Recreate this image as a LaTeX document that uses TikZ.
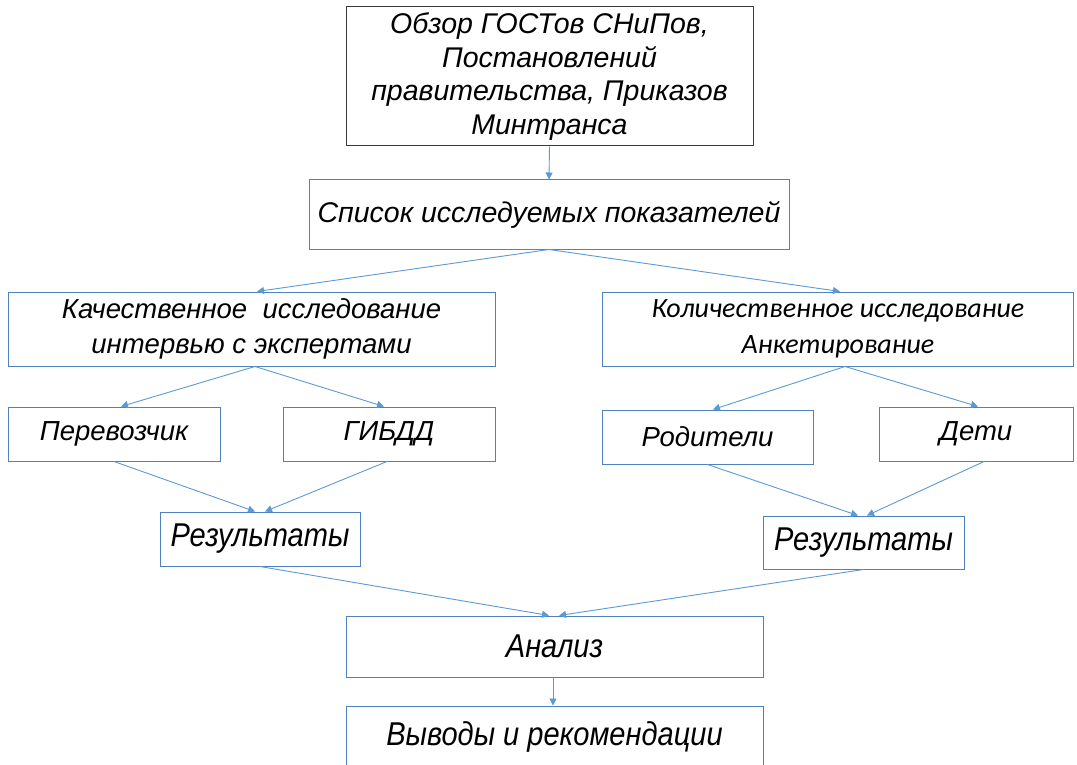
\documentclass[tikz,border=0pt]{standalone}
\usepackage{fontspec}
\setmainfont{Liberation Sans}
\newfontfamily\fcnarrow[FakeStretch=0.88]{Liberation Sans}
\newfontfamily\fccalibri{Carlito}
\usepackage{tikz}
\usetikzlibrary{arrows.meta}
\definecolor{fcframe}{HTML}{4F81BD}
\definecolor{fcline} {HTML}{5B9BD5}
\definecolor{fcdark} {HTML}{3A3A3A}
\newcommand{\fcsize}[2]{\fontsize{#1}{#2}\selectfont\itshape}
\tikzset{
  fcbox/.style={draw=fcframe, fill=white, line width=1pt, inner sep=0pt,
                align=center, font=\fcsize{27.5}{33}},
  fctop/.style={fcbox, draw=fcdark, font=\fcsize{28.5}{33.5}},
  fcsmall/.style={fcbox, font=\fccalibri\fcsize{28}{36}},
  fcnarrowbox/.style={fcbox, font=\fcnarrow\fcsize{33}{36}},
  fcarrow/.style={-{Triangle[length=7pt,width=7pt]}, draw=fcline, line width=0.9pt},
}

\begin{document}
\begin{tikzpicture}[x=1pt,y=-1pt]
  \useasboundingbox (0,0) rectangle (1077,765);
  \fill[white] (0,0) rectangle (1077,765);

  \node[fctop, minimum width=407, minimum height=139] (obzor) at (549.5,76.5)
    {Обзор ГОСТов СНиПов,\\Постановлений\\правительства, Приказов\\Минтранса};
  \node[fcbox, minimum width=480, minimum height=69, font=\fcsize{28.5}{33}] (spisok) at (549,214.5)
    {Список исследуемых показателей};

  \node[fcbox, minimum width=487, minimum height=74, font=\fcsize{27.5}{35}] (kach) at (251.5,329)
    {Качественное\ \ исследование\\интервью с экспертами};
  \node[fcsmall, minimum width=471, minimum height=74] (kol) at (838,329)
    {Количественное исследование\\Анкетирование};

  \node[fcbox, minimum width=212, minimum height=54] (perev) at (114,434) {Перевозчик};
  \node[fcbox, minimum width=212, minimum height=54] (gibdd) at (389,434) {ГИБДД};
  \node[fcbox, minimum width=211, minimum height=54] (rodit) at (707.5,437) {Родители};
  \node[fcbox, minimum width=194, minimum height=54] (deti) at (976,434) {Дети};

  \node[fcnarrowbox, minimum width=200, minimum height=54] (rez1) at (260,539) {Результаты};
  \node[fcnarrowbox, minimum width=201, minimum height=53] (rez2) at (863.5,542.5) {Результаты};

  \node[fcnarrowbox, minimum width=417, minimum height=61] (analiz) at (554.5,646.5) {Анализ};
  \node[fcnarrowbox, minimum width=417, minimum height=62] (vyvod) at (554.5,737) {Выводы и рекомендации};

  % arrows
  \draw[fcarrow] (obzor.south) -- (spisok.north);
  \draw[fcarrow] (spisok.south) -- ([xshift=5.5pt]kach.north);
  \draw[fcarrow] (spisok.south) -- ([xshift=2pt]kol.north);
  \draw[fcarrow] ([xshift=3.5pt]kach.south) -- ([xshift=7pt]perev.north);
  \draw[fcarrow] ([xshift=3.5pt]kach.south) -- ([xshift=-5pt]gibdd.north);
  \draw[fcarrow] ([xshift=7pt]kol.south) -- ([xshift=5.5pt]rodit.north);
  \draw[fcarrow] ([xshift=7pt]kol.south) -- ([xshift=2pt]deti.north);
  \draw[fcarrow] (perev.south) -- ([xshift=-5pt]rez1.north);
  \draw[fcarrow] ([xshift=-2pt]gibdd.south) -- ([xshift=5pt]rez1.north);
  \draw[fcarrow] (rodit.south) -- ([xshift=-5.5pt]rez2.north);
  \draw[fcarrow] ([xshift=8pt]deti.south) -- ([xshift=3.5pt]rez2.north);
  \draw[fcarrow] (rez1.south) -- ([xshift=-5.5pt]analiz.north);
  \draw[fcarrow] (rez2.south) -- ([xshift=4.5pt]analiz.north);
  \draw[fcarrow] ([xshift=-1.5pt]analiz.south) -- ([xshift=-1.5pt]vyvod.north);
\end{tikzpicture}
\end{document}
